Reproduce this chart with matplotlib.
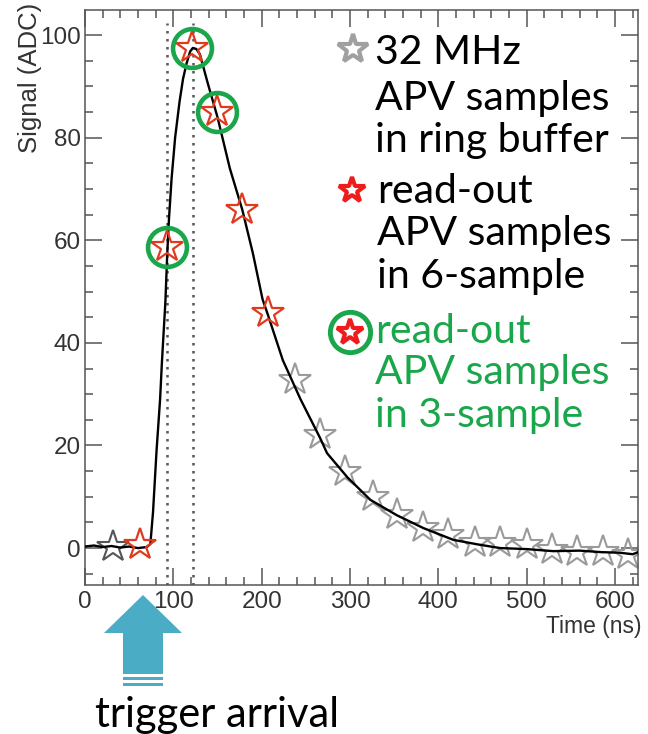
import matplotlib.pyplot as plt
from matplotlib.patches import Polygon, Rectangle
from matplotlib.ticker import MultipleLocator

# Datos
tiempo_curva = [0, 10, 20, 30, 40, 50, 60, 70, 74, 77, 79, 81, 83, 85, 87, 89, 91, 93, 95, 98, 102,
                107, 111, 115, 119, 122, 126, 130, 139, 150, 164, 178, 190, 201, 207, 224, 244, 266,
                274, 297, 323, 353, 383, 417, 445, 470, 500, 530, 560, 585, 605, 620, 626]
senal_curva = [0.3, 0.5, 0.2, 0.4, 0.1, 0.3, 0.0, 0.2, 0.8, 7, 13, 19, 24, 29, 36, 42, 48, 57, 64,
               72, 80, 87, 91.5, 94.5, 96.8, 97.5, 97.3, 96.3, 90.6, 84, 74, 66, 57.5, 48.5, 45.5,
               36.6, 29, 21.5, 18.5, 13.8, 9.4, 6.4, 3.9, 1.6, 0.7, 0.0, -0.2, -0.6, -0.5, -0.8,
               -0.9, -1.2, -0.8]

# muestras APV en el ring buffer (32 MHz)
previa_t = [32]
previa_v = [0.2]
gris_t = [238, 266, 294, 326, 353, 383, 411, 442, 470, 500, 529, 557, 586, 615]
gris_v = [32.7, 22, 14.8, 10, 6.4, 4, 2.5, 1, 1, 0.6, -0.4, -0.8, -0.8, -1.4]

# muestras leidas (6 muestras)
rojo_t = [62, 93, 121, 149, 178, 207]
rojo_v = [0.6, 58.7, 97.5, 85, 66, 45.8]

# muestras leidas (3 muestras)
verde_t = rojo_t[1:4]
verde_v = rojo_v[1:4]

# lineas punteadas
ventana_t = [92.5, 122]

texto_1 = ["32 MHz", "APV samples", "in ring buffer"]
texto_2 = ["read-out", "APV samples", "in 6-sample"]
texto_3 = ["read-out", "APV samples", "in 3-sample"]

ROJO = '#e03a1e'
GRIS = '#9a9a9a'
VERDE = '#1aa64a'
AZUL = '#4bacc6'

fig = plt.figure(figsize=(6.48, 7.34), dpi=100)
ax = fig.add_axes([85 / 648, 1 - 585 / 734, (638 - 85) / 648, (585 - 10) / 734])

ax.plot(tiempo_curva, senal_curva, color='black', lw=1.7, zorder=3)
for t in ventana_t:
    ax.plot([t, t], [-7.2, 102.3], color='#555555', lw=1.8, dashes=(1, 2.2), zorder=2)

ax.plot(gris_t, gris_v, ls='none', marker='*', ms=24, mfc='none', mec=GRIS, mew=1.5, zorder=2)
ax.plot(previa_t, previa_v, ls='none', marker='*', ms=24, mfc='none', mec='#555555', mew=1.5, zorder=2)
ax.plot(rojo_t, rojo_v, ls='none', marker='*', ms=24, mfc='none', mec=ROJO, mew=1.6, zorder=4)
ax.plot(verde_t, verde_v, ls='none', marker='o', ms=28, mfc='none', mec=VERDE, mew=3.3, zorder=5)

ax.set_xlim(0, 626)
ax.set_ylim(-7.2, 104.9)
ax.xaxis.set_major_locator(MultipleLocator(100))
ax.xaxis.set_minor_locator(MultipleLocator(20))
ax.yaxis.set_major_locator(MultipleLocator(20))
ax.yaxis.set_minor_locator(MultipleLocator(5))
ax.tick_params(which='both', direction='in', top=True, right=True, color='#555555', width=1.1,
               labelcolor='#333333', labelsize=17.5, labelfontfamily='Liberation Sans')
ax.tick_params(which='major', length=12)
ax.tick_params(which='minor', length=6)
ax.tick_params(axis='y', pad=3)
ax.tick_params(axis='x', pad=4)
for s in ax.spines.values():
    s.set_color('#555555')
    s.set_linewidth(1.1)

# capa en pixeles para anotaciones
capa = fig.add_axes([0, 0, 1, 1])
capa.set_xlim(0, 648)
capa.set_ylim(734, 0)
capa.axis('off')
capa.patch.set_alpha(0)

capa.text(30, 78, "Signal (ADC)", rotation=90, ha='center', va='center', fontsize=18.5,
          color='#333333', family='Liberation Sans')
capa.text(642, 633, "Time (ns)", ha='right', va='baseline', fontsize=16.5,
          color='#333333', family='Liberation Sans')

# leyenda
fuente = 'Lato'
for linea, yb in zip(texto_1, [64, 110, 152]):
    capa.text(375, yb, linea, fontsize=29.5, family=fuente, color='black', va='baseline')
for linea, yb in zip(texto_2, [203, 245, 288]):
    capa.text(377, yb, linea, fontsize=29.5, family=fuente, color='black', va='baseline')
for linea, yb in zip(texto_3, [343, 384, 427]):
    capa.text(375, yb, linea, fontsize=29.5, family=fuente, color=VERDE, va='baseline')

capa.plot([353], [49], marker='*', ms=22, mfc='white', mec='#a0a0a0', mew=3)
capa.plot([352], [190], marker='*', ms=19, mfc='white', mec='#ee1c1c', mew=3)
capa.plot([350], [332], marker='o', ms=29, mfc='white', mec=VERDE, mew=3.5)
capa.plot([350], [332], marker='*', ms=19, mfc='white', mec='#ee1c1c', mew=3)

# flecha del trigger
flecha = Polygon([(143, 595), (182, 633), (163, 633), (163, 674), (123, 674), (123, 633), (104, 633)],
                 closed=True, color=AZUL, lw=0)
capa.add_patch(flecha)
capa.add_patch(Rectangle((123, 677), 40, 3, color=AZUL, lw=0))
capa.add_patch(Rectangle((123, 683), 40, 3, color=AZUL, lw=0))
capa.text(217, 727, "trigger arrival", ha='center', va='baseline', fontsize=30, family=fuente,
          color='black')

fig.savefig('out.png', dpi=100)
